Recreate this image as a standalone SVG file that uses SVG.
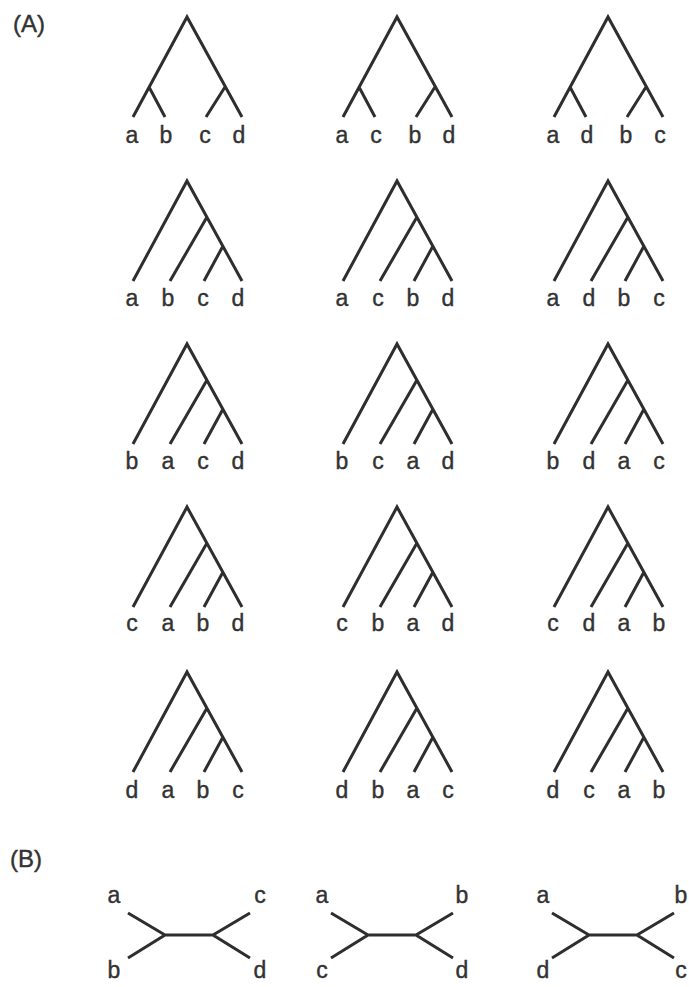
<svg xmlns="http://www.w3.org/2000/svg" xmlns:xlink="http://www.w3.org/1999/xlink" width="689" height="987" viewBox="0 0 689 987">
<style>
.br{fill:none;stroke:#2e2e2e;stroke-width:3;stroke-linejoin:miter;stroke-linecap:butt}
.lb{font-family:"Liberation Sans",Arial,sans-serif;font-size:23px;fill:#333;stroke:#333;stroke-width:0.4;text-anchor:middle}
.pl{font-family:"Liberation Sans",Arial,sans-serif;font-size:24px;fill:#333;stroke:#333;stroke-width:0.4}
</style>
<defs>
<path id="sym" class="br" d="M-54,100 L0,0 L55,100 M-38,70 L-22,100 M38,70 L19,100"/>
<path id="cat" class="br" d="M-54,100 L0,0 L55,100 M20,36 L-17,100 M36,65 L17,100"/>
<path id="unr" class="br" d="M-61,-22 L-24,0 L-61,23 M-24,0 L24,0 M61,-22 L24,0 L61,23"/>
</defs>
<rect width="689" height="987" fill="#fff"/>
<text class="pl" x="13" y="32">(A)</text>
<text class="pl" x="10" y="867">(B)</text>

<!-- Row 1 -->
<g id="r1c1" transform="translate(187,17)"><use href="#sym"/>
<text class="lb" x="-55" y="126">a</text><text class="lb" x="-21" y="126">b</text><text class="lb" x="18" y="126">c</text><text class="lb" x="52" y="126">d</text></g>
<g id="r1c2" transform="translate(397,17)"><use href="#sym"/>
<text class="lb" x="-55" y="126">a</text><text class="lb" x="-21" y="126">c</text><text class="lb" x="18" y="126">b</text><text class="lb" x="52" y="126">d</text></g>
<g id="r1c3" transform="translate(608,17)"><use href="#sym"/>
<text class="lb" x="-55" y="126">a</text><text class="lb" x="-21" y="126">d</text><text class="lb" x="18" y="126">b</text><text class="lb" x="52" y="126">c</text></g>

<!-- Row 2 -->
<g id="r2c1" transform="translate(187,181)"><use href="#cat"/>
<text class="lb" x="-55" y="125">a</text><text class="lb" x="-19" y="125">b</text><text class="lb" x="16" y="125">c</text><text class="lb" x="51" y="125">d</text></g>
<g id="r2c2" transform="translate(397,181)"><use href="#cat"/>
<text class="lb" x="-55" y="125">a</text><text class="lb" x="-19" y="125">c</text><text class="lb" x="16" y="125">b</text><text class="lb" x="51" y="125">d</text></g>
<g id="r2c3" transform="translate(608,181)"><use href="#cat"/>
<text class="lb" x="-55" y="125">a</text><text class="lb" x="-19" y="125">d</text><text class="lb" x="16" y="125">b</text><text class="lb" x="51" y="125">c</text></g>

<!-- Row 3 -->
<g id="r3c1" transform="translate(187,344)"><use href="#cat"/>
<text class="lb" x="-55" y="125">b</text><text class="lb" x="-19" y="125">a</text><text class="lb" x="16" y="125">c</text><text class="lb" x="51" y="125">d</text></g>
<g id="r3c2" transform="translate(397,344)"><use href="#cat"/>
<text class="lb" x="-55" y="125">b</text><text class="lb" x="-19" y="125">c</text><text class="lb" x="16" y="125">a</text><text class="lb" x="51" y="125">d</text></g>
<g id="r3c3" transform="translate(608,344)"><use href="#cat"/>
<text class="lb" x="-55" y="125">b</text><text class="lb" x="-19" y="125">d</text><text class="lb" x="16" y="125">a</text><text class="lb" x="51" y="125">c</text></g>

<!-- Row 4 -->
<g id="r4c1" transform="translate(187,507)"><use href="#cat"/>
<text class="lb" x="-55" y="124">c</text><text class="lb" x="-19" y="124">a</text><text class="lb" x="16" y="124">b</text><text class="lb" x="51" y="124">d</text></g>
<g id="r4c2" transform="translate(397,507)"><use href="#cat"/>
<text class="lb" x="-55" y="124">c</text><text class="lb" x="-19" y="124">b</text><text class="lb" x="16" y="124">a</text><text class="lb" x="51" y="124">d</text></g>
<g id="r4c3" transform="translate(608,507)"><use href="#cat"/>
<text class="lb" x="-55" y="124">c</text><text class="lb" x="-19" y="124">d</text><text class="lb" x="16" y="124">a</text><text class="lb" x="51" y="124">b</text></g>

<!-- Row 5 -->
<g id="r5c1" transform="translate(187,672)"><use href="#cat"/>
<text class="lb" x="-55" y="126">d</text><text class="lb" x="-19" y="126">a</text><text class="lb" x="16" y="126">b</text><text class="lb" x="51" y="126">c</text></g>
<g id="r5c2" transform="translate(397,672)"><use href="#cat"/>
<text class="lb" x="-55" y="126">d</text><text class="lb" x="-19" y="126">b</text><text class="lb" x="16" y="126">a</text><text class="lb" x="51" y="126">c</text></g>
<g id="r5c3" transform="translate(608,672)"><use href="#cat"/>
<text class="lb" x="-55" y="126">d</text><text class="lb" x="-19" y="126">c</text><text class="lb" x="16" y="126">a</text><text class="lb" x="51" y="126">b</text></g>

<!-- (B) unrooted trees -->
<g id="b1" transform="translate(189,935)"><use href="#unr"/>
<text class="lb" x="-75" y="-32">a</text><text class="lb" x="-75" y="43">b</text><text class="lb" x="71" y="-32">c</text><text class="lb" x="71" y="43">d</text></g>
<g id="b2" transform="translate(392,935)"><use href="#unr"/>
<text class="lb" x="-70" y="-32">a</text><text class="lb" x="-70" y="43">c</text><text class="lb" x="70" y="-32">b</text><text class="lb" x="70" y="43">d</text></g>
<g id="b3" transform="translate(613,935)"><use href="#unr"/>
<text class="lb" x="-70" y="-32">a</text><text class="lb" x="-70" y="43">d</text><text class="lb" x="68" y="-32">b</text><text class="lb" x="68" y="43">c</text></g>
</svg>
